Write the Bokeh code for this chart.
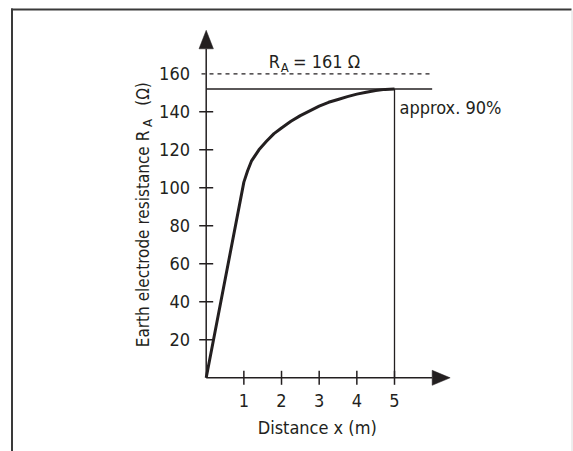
import numpy as np
from bokeh.plotting import figure
from bokeh.models import Range1d
from bokeh.core.properties import value
from bokeh.embed import file_html
from bokeh.resources import INLINE

# ---------------- data ----------------
dist_m = [0, 1.0, 1.1, 1.2, 1.4, 1.6, 1.8, 2.0, 2.25, 2.5, 2.75, 3.0, 3.25, 3.5,
          3.75, 4.0, 4.25, 4.5, 4.75, 5.0]
resistance_ohm = [0, 103, 109, 114, 120, 124.5, 128.5, 131.5, 135, 138, 140.5,
                  143, 145, 146.5, 148, 149.3, 150.3, 151.2, 151.8, 152]
x_tick_values = [1, 2, 3, 4, 5]
x_tick_labels = ["1", "2", "3", "4", "5"]
y_tick_marks = [20, 40, 60, 80, 100, 120, 140]
y_label_values = [20, 40, 60, 80, 100, 120, 140, 160]
y_tick_labels = ["20", "40", "60", "80", "100", "120", "140", "160"]
x_axis_max = 6.0
ra_level = 160          # dashed line (R_A = 161 Ω)
ra_90 = 152             # approx. 90 % level
x_90 = 5                # distance where ~90 % is reached
ra_text = "= 161 Ω"
pct_text = "approx. 90%"
x_title = "Distance x (m)"
y_title_main = "Earth electrode resistance R"
y_title_tail = "(Ω)"

# ---------------- geometry ----------------
W, H = 573, 451
PAGE = 0                   # page offset of the canvas
OX, OY = 205.7, 377.3      # canvas px of data origin
SX, SY = 37.66, 1.9        # px per data unit

def dx(page_x):
    return (page_x - PAGE - OX) / SX

def dy(page_y):
    return (OY - (page_y - PAGE)) / SY

def px2x(n):
    return n / SX

def px2y(n):
    return n / SY

INK = "#231f20"
FONT = value("DejaVu Sans Condensed, sans-serif")
FS = "18px"
FS_Y = "17px"
FS_SUB = "13px"

p = figure(width=W, height=H,
           x_range=Range1d(-OX / SX, (W - OX) / SX),
           y_range=Range1d(-(H - OY) / SY, OY / SY),
           output_backend="svg", toolbar_location=None,
           x_axis_type=None, y_axis_type=None, min_border=0)
p.outline_line_color = None
p.background_fill_color = "white"
p.border_fill_color = "white"

# frame of the figure box
y_bot = p.y_range.start
p.segment(x0=[dx(11.5)], y0=[y_bot], x1=[dx(11.5)], y1=[dy(8)],
          line_color="#3a3a3a", line_width=2)
p.segment(x0=[dx(10.5)], y0=[dy(9)], x1=[dx(571)], y1=[dy(9)],
          line_color="#3a3a3a", line_width=2)
p.segment(x0=[dx(571.5)], y0=[y_bot], x1=[dx(571.5)], y1=[dy(10)],
          line_color="#dcdcdc", line_width=1)

# axes lines
y_axis_top = dy(48.3)
p.segment(x0=[0, 0], y0=[0, 0], x1=[x_axis_max, 0], y1=[0, y_axis_top],
          line_color=INK, line_width=1.5)
# arrow heads
p.patch(x=[0 - px2x(7.2), 0, 0 + px2x(7.2)],
        y=[y_axis_top, y_axis_top + px2y(18.5), y_axis_top],
        color=INK, line_width=0.5)
p.patch(x=[x_axis_max, x_axis_max + px2x(18), x_axis_max],
        y=[px2y(7.5), 0, -px2y(7.5)],
        color=INK, line_width=0.5)

# ticks (crossing the axes)
p.segment(x0=x_tick_values, y0=[-px2y(7)] * len(x_tick_values),
          x1=x_tick_values, y1=[px2y(7)] * len(x_tick_values),
          line_color=INK, line_width=1.5)
p.segment(x0=[-px2x(7)] * len(y_tick_marks), y0=y_tick_marks,
          x1=[px2x(7)] * len(y_tick_marks), y1=y_tick_marks,
          line_color=INK, line_width=1.5)

# reference lines
p.segment(x0=[-px2x(4.7)], y0=[ra_level], x1=[x_axis_max], y1=[ra_level],
          line_color=INK, line_width=1.3, line_dash="4 4")
p.segment(x0=[0], y0=[ra_90], x1=[x_axis_max], y1=[ra_90],
          line_color=INK, line_width=1.5)
p.segment(x0=[x_90], y0=[0], x1=[x_90], y1=[ra_90],
          line_color=INK, line_width=1.3)

# curve
p.line(dist_m, resistance_ohm, line_color=INK, line_width=3, line_join="round")

def label(x, y, t, size=FS, align="left", angle=0.0):
    p.text(x=x, y=y, text=t, angle=angle,
           text_font=FONT, text_font_size=size, text_color=INK,
           text_align=align, text_baseline="middle")

# tick labels
label(x_tick_values, [dy(400)] * len(x_tick_values), x_tick_labels, align="center")
label([dx(189.5)] * len(y_label_values), y_label_values, y_tick_labels, align="right")

# axis titles
label([dx(316.7)], [dy(427)], [x_title], align="center")
label([dx(142)], [dy(346.7)], [y_title_main], size=FS_Y, angle=np.pi / 2)
label([dx(147)], [dy(126.5)], ["A"], size=FS_SUB, angle=np.pi / 2)
label([dx(142)], [dy(81.7)], [y_title_tail], size=FS_Y, align="right", angle=np.pi / 2)

# annotations
label([dx(268.3)], [dy(60.9)], ["R"])
label([dx(280.3)], [dy(66.5)], ["A"], size=FS_SUB)
label([dx(292.5)], [dy(60.9)], [ra_text])
label([dx(399)], [dy(106.7)], [pct_text])

open("out.html", "w").write(file_html(p, INLINE))
